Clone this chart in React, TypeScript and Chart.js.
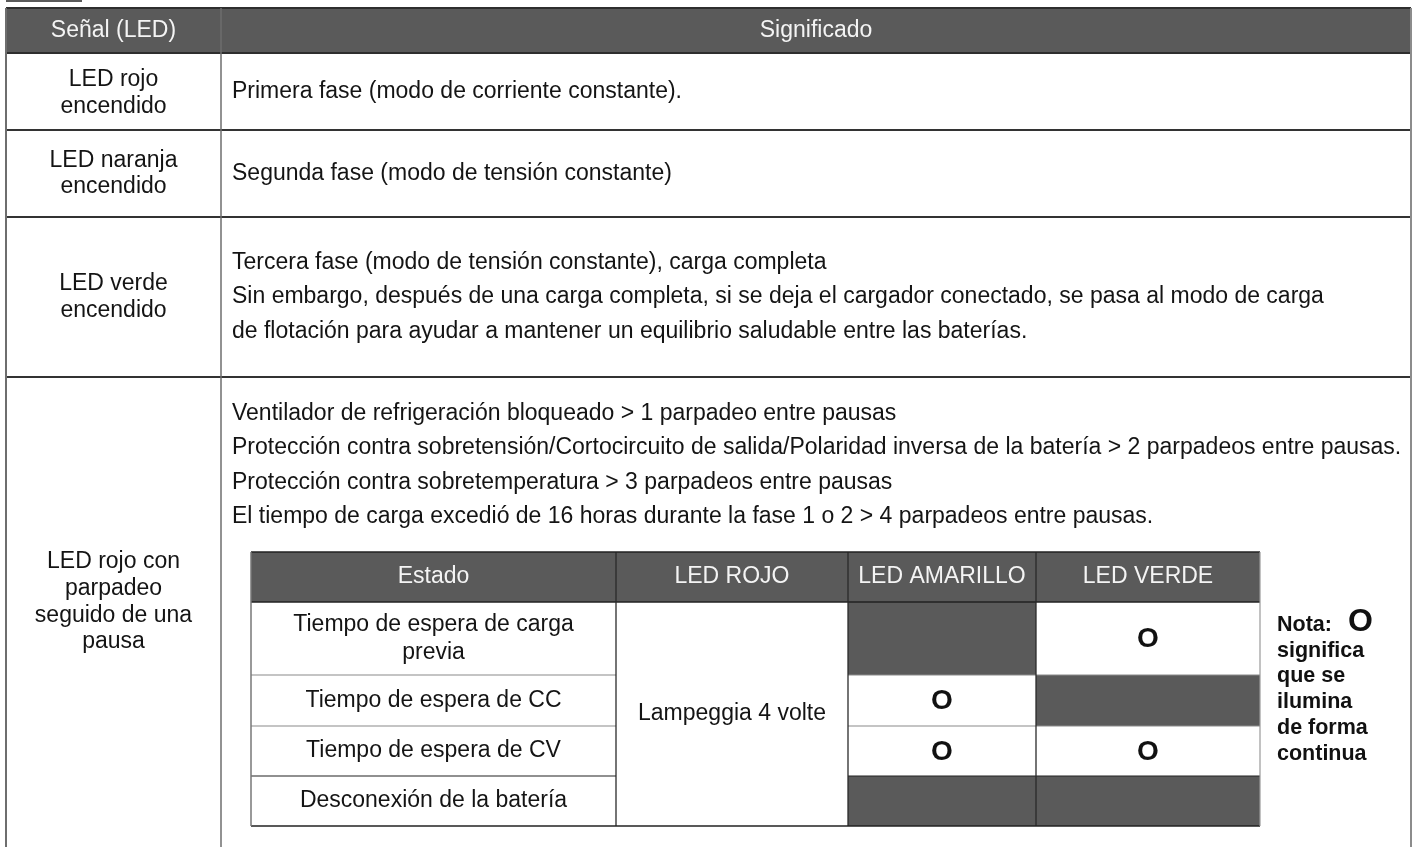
import React, { useEffect, useRef } from "react";
import { Chart, registerables } from "chart.js";

Chart.register(...registerables);

// ---------- data ----------
const headerLabels = ["Señal (LED)", "Significado"];
const signalLabels = [
  ["LED rojo", "encendido"],
  ["LED naranja", "encendido"],
  ["LED verde", "encendido"],
  ["LED rojo con", "parpadeo", "seguido de una", "pausa"],
];
const meaningLines = [
  ["Primera fase (modo de corriente constante)."],
  ["Segunda fase (modo de tensión constante)"],
  [
    "Tercera fase (modo de tensión constante), carga completa",
    "Sin embargo, después de una carga completa, si se deja el cargador conectado, se pasa al modo de carga",
    "de flotación para ayudar a mantener un equilibrio saludable entre las baterías.",
  ],
  [
    "Ventilador de refrigeración bloqueado > 1 parpadeo entre pausas",
    "Protección contra sobretensión/Cortocircuito de salida/Polaridad inversa de la batería > 2 parpadeos entre pausas.",
    "Protección contra sobretemperatura > 3 parpadeos entre pausas",
    "El tiempo de carga excedió de 16 horas durante la fase 1 o 2 > 4 parpadeos entre pausas.",
  ],
];
const stateHeaders = ["Estado", "LED ROJO", "LED AMARILLO", "LED VERDE"];
const stateLabels = [
  ["Tiempo de espera de carga", "previa"],
  ["Tiempo de espera de CC"],
  ["Tiempo de espera de CV"],
  ["Desconexión de la batería"],
];
const redLedLabel = "Lampeggia 4 volte";
const yellowLedOn = [false, true, true, false];
const greenLedOn = [true, false, true, false];
const onMark = "O";
const noteLabel = "Nota:";
const noteLines = ["significa", "que se", "ilumina", "de forma", "continua"];

// ---------- layout & style ----------
const W = 1416;
const H = 847;
const FONT = '"Liberation Sans", Arial, Helvetica, sans-serif';
const LAYOUT = {
  tag: { x0: 6, x1: 82, y0: 0, y1: 2 },
  x0: 6,
  x1: 1411,
  xDiv: 221,
  yTop: 8,
  yHead: 53,
  rowBottoms: [130, 217, 377, 900],
  meaningX: 232,
  lineH: 34.5,
  firstLineY: [91.5, 173.5, 262.5, 413.5],
  signalLineH: 26.6,
  signalCenterY: [93, 173.5, 297, 602],
  innerCols: [251, 616, 848, 1036, 1260],
  innerRows: [552, 602, 675, 726, 776, 826],
  innerLineH: 28,
  noteX: 1277,
  noteBase: 631,
  noteLineH: 25.7,
};
const C = {
  dark: "#5a5a5a",
  headText: "#f4f4f4",
  text: "#141414",
  line: "#333333",
  vline: "#6e6e6e",
  grid: "#8a8a8a",
};

const tablePlugin = {
  id: "ledTable",
  beforeDraw(chart: any) {
    const ctx = chart.ctx;
    ctx.save();
    ctx.fillStyle = "#ffffff";
    ctx.fillRect(0, 0, chart.width, chart.height);
    ctx.restore();
  },
  afterDraw(chart: any) {
    const ctx: CanvasRenderingContext2D = chart.ctx;
    const sx = chart.scales.x;
    const sy = chart.scales.y;
    const px = (v: number) => sx.getPixelForValue(v);
    const py = (v: number) => sy.getPixelForValue(v);
    const rect = (x0: number, y0: number, x1: number, y1: number, color: string) => {
      ctx.fillStyle = color;
      ctx.fillRect(px(x0), py(y0), px(x1) - px(x0), py(y1) - py(y0));
    };
    const hline = (x0: number, x1: number, y: number, color: string, w: number) => {
      ctx.strokeStyle = color;
      ctx.lineWidth = w;
      ctx.beginPath();
      ctx.moveTo(px(x0), py(y));
      ctx.lineTo(px(x1), py(y));
      ctx.stroke();
    };
    const vline = (x: number, y0: number, y1: number, color: string, w: number) => {
      ctx.strokeStyle = color;
      ctx.lineWidth = w;
      ctx.beginPath();
      ctx.moveTo(px(x), py(y0));
      ctx.lineTo(px(x), py(y1));
      ctx.stroke();
    };
    const text = (
      s: string,
      x: number,
      y: number,
      font: string,
      color: string,
      align: CanvasTextAlign = "center",
      base: CanvasTextBaseline = "middle"
    ) => {
      ctx.font = font;
      ctx.fillStyle = color;
      ctx.textAlign = align;
      ctx.textBaseline = base;
      ctx.fillText(s, px(x), py(y));
    };
    const L = LAYOUT;
    const body = `23px ${FONT}`;
    ctx.save();

    // small tag at top-left
    rect(L.tag.x0, L.tag.y0, L.tag.x1, L.tag.y1, C.dark);

    // outer header
    rect(L.x0, L.yTop, L.x1, L.yHead, C.dark);
    const headMid = (L.yTop + L.yHead) / 2;
    text(headerLabels[0], (L.x0 + L.xDiv) / 2, headMid, body, C.headText);
    text(headerLabels[1], (L.xDiv + L.x1) / 2, headMid, body, C.headText);

    // outer rows
    signalLabels.forEach((lines, r) => {
      const cy = L.signalCenterY[r];
      const start = cy - ((lines.length - 1) * L.signalLineH) / 2;
      lines.forEach((s, i) => text(s, (L.x0 + L.xDiv) / 2, start + i * L.signalLineH, body, C.text));
    });
    meaningLines.forEach((lines, r) => {
      lines.forEach((s, i) =>
        text(s, L.meaningX, L.firstLineY[r] + i * L.lineH, body, C.text, "left")
      );
    });

    // inner table
    const cols = L.innerCols;
    const rows = L.innerRows;
    rect(cols[0], rows[0], cols[4], rows[1], C.dark);
    stateHeaders.forEach((s, c) =>
      text(s, (cols[c] + cols[c + 1]) / 2, (rows[0] + rows[1]) / 2, body, C.headText)
    );
    const mark = `bold 28px ${FONT}`;
    stateLabels.forEach((lines, r) => {
      const cy = (rows[r + 1] + rows[r + 2]) / 2;
      const start = cy - ((lines.length - 1) * L.innerLineH) / 2;
      lines.forEach((s, i) => text(s, (cols[0] + cols[1]) / 2, start + i * L.innerLineH, body, C.text));
      if (!yellowLedOn[r]) rect(cols[2], rows[r + 1], cols[3], rows[r + 2], C.dark);
      else text(onMark, (cols[2] + cols[3]) / 2, cy + 1, mark, "#111");
      if (!greenLedOn[r]) rect(cols[3], rows[r + 1], cols[4], rows[r + 2], C.dark);
      else text(onMark, (cols[3] + cols[4]) / 2, cy + 1, mark, "#111");
    });
    text(redLedLabel, (cols[1] + cols[2]) / 2, (rows[1] + rows[5]) / 2, body, C.text);

    // inner grid lines
    for (let r = 2; r <= 4; r++) {
      const col = r === 4 ? "#222" : C.grid;
      hline(cols[0], cols[1], rows[r], col, 1.2);
      hline(cols[2], cols[4], rows[r], col, 1.2);
    }
    hline(cols[0], cols[4], rows[1], "#222", 1.5);
    [1, 2, 3].forEach((c) => vline(cols[c], rows[0], rows[5], "#2a2a2a", 1.3));
    hline(cols[0], cols[4], rows[0], "#222", 1.5);
    hline(cols[0], cols[4], rows[5], "#222", 1.5);
    vline(cols[0], rows[0], rows[5], "#777", 1.5);
    vline(cols[4], rows[0], rows[5], "#999", 1.2);

    // note
    const noteFont = `bold 21.5px ${FONT}`;
    text(noteLabel, L.noteX, L.noteBase, noteFont, "#111", "left", "alphabetic");
    ctx.font = noteFont;
    const nw = ctx.measureText(noteLabel + " ").width;
    text(onMark, L.noteX + nw + 10, L.noteBase, `bold 32px ${FONT}`, "#111", "left", "alphabetic");
    noteLines.forEach((s, i) =>
      text(s, L.noteX, L.noteBase + (i + 1) * L.noteLineH, noteFont, "#111", "left", "alphabetic")
    );

    // outer grid lines
    hline(L.x0, L.x1, L.yTop, "#2e2e2e", 2);
    hline(L.x0, L.x1, L.yHead, "#2e2e2e", 2);
    L.rowBottoms.slice(0, 3).forEach((y) => hline(L.x0, L.x1, y, C.line, 2));
    vline(L.x0, L.yTop, H + 10, C.vline, 2);
    vline(L.xDiv, L.yTop, H + 10, C.vline, 1.5);
    vline(L.x1, L.yTop, H + 10, "#8c8c8c", 2);

    ctx.restore();
  },
};

export default function App() {
  const ref = useRef<HTMLCanvasElement | null>(null);
  useEffect(() => {
    if (!ref.current) return;
    const chart = new Chart(ref.current, {
      type: "scatter",
      data: { datasets: [{ data: [], pointRadius: 0 }] },
      options: {
        animation: false,
        responsive: false,
        devicePixelRatio: 1,
        events: [],
        layout: { padding: 0 },
        plugins: { legend: { display: false }, tooltip: { enabled: false } },
        scales: {
          x: { type: "linear", min: 0, max: W, display: false },
          y: { type: "linear", min: 0, max: H, reverse: true, display: false },
        },
      },
      plugins: [tablePlugin],
    } as any);
    return () => chart.destroy();
  }, []);
  return (
    <div style={{ position: "absolute", left: 0, top: 0, width: W, height: H, background: "#fff" }}>
      <canvas ref={ref} width={W} height={H} style={{ display: "block", width: W, height: H }} />
    </div>
  );
}
